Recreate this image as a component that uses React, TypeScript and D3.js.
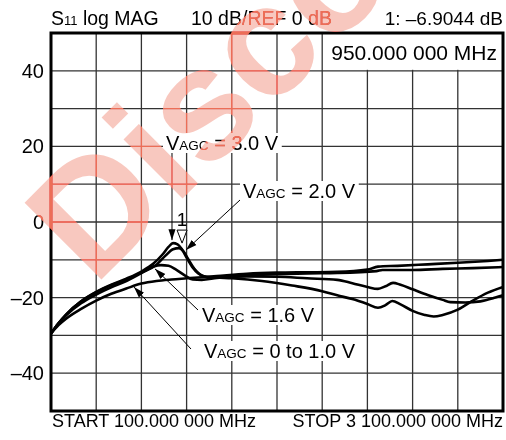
import React, { useEffect, useRef } from 'react';
import * as d3 from 'd3';

const W = 506;
const H = 440;
const margin = { top: 33, right: 3, bottom: 29, left: 51 };

// sweep 100 MHz .. 3100 MHz, 10 dB/div around REF 0 dB
const freqDomain = [100, 3100];
const dbDomain = [-50, 50];
const yTickLabels = [40, 20, 0, -20, -40];

// [MHz, dB]
const agc30 = [
  [100, -29.5], [150, -26.8], [200, -24.5], [300, -21], [400, -18.5], [500, -16.6], [600, -15],
  [700, -13.1], [780, -11], [840, -8.6], [880, -6.6], [910, -5.6], [940, -5.9], [970, -7.3],
  [1000, -9.4], [1040, -12], [1080, -13.7], [1130, -14.5], [1200, -14.7], [1300, -14.9],
  [1500, -15.6], [1700, -16.8], [1900, -18.3], [2000, -19.4], [2100, -20.4], [2200, -21.7],
  [2270, -22.7], [2320, -22], [2365, -20.9], [2420, -21.8], [2500, -23.5], [2580, -24.6],
  [2640, -25], [2700, -24.6], [2800, -23.2], [2900, -20.8], [3000, -18.7], [3100, -17.2],
];
const agc20 = [
  [100, -29.5], [150, -26.8], [200, -24.5], [300, -21], [400, -18.6], [500, -16.7], [600, -15.2],
  [700, -13.4], [800, -11.3], [860, -8.9], [910, -7.2], [950, -6.9], [980, -7.8], [1010, -9.8],
  [1050, -12.3], [1090, -13.9], [1140, -14.6], [1200, -14.6], [1400, -14.4], [1600, -14.5],
  [1800, -14.9], [2000, -15.3], [2100, -16.2], [2200, -17.2], [2270, -17.7], [2320, -17],
  [2370, -16.1], [2420, -16.6], [2500, -17.8], [2600, -19.3], [2700, -20.6], [2750, -21.2],
  [2850, -21.3], [2950, -21], [3050, -20], [3100, -19.4],
];
const agc16 = [
  [100, -29.5], [150, -26.8], [200, -24.7], [300, -21.5], [400, -19.2], [500, -17.3], [600, -15.6],
  [700, -13.5], [780, -11.8], [830, -11.4], [880, -11.6], [930, -12.6], [990, -14.2], [1040, -15.2],
  [1100, -15.3], [1200, -14.8], [1400, -14.1], [1600, -13.8], [1800, -13.6], [2000, -13.5],
  [2260, -13], [2300, -12.7], [2500, -12.7], [2700, -12.4], [2900, -12.2], [3100, -11.9],
];
const agc0to1 = [
  [100, -29.5], [150, -27.3], [200, -25.6], [300, -23], [400, -20.8], [500, -19], [600, -17.6],
  [700, -16.3], [800, -15.6], [900, -15.2], [1000, -14.9], [1100, -14.6], [1200, -14.3],
  [1400, -13.7], [1600, -13.4], [1800, -13.3], [2000, -13.2], [2200, -12.6], [2270, -11.8],
  [2400, -11.6], [2600, -11.2], [2800, -10.8], [3000, -10.3], [3100, -10],
];

const markerFreq = 950;
const markerDb = -6.9044;

const FONT = 'Liberation Sans, Arial, Helvetica, sans-serif';

const App = () => {
  const svgRef = useRef<SVGSVGElement>(null);

  useEffect(() => {
    const svg = d3.select(svgRef.current);
    svg.selectAll('*').remove();

    const x = d3.scaleLinear().domain(freqDomain).range([margin.left, W - margin.right]);
    const y = d3.scaleLinear().domain(dbDomain).range([H - margin.bottom, margin.top]);

    svg.append('rect').attr('width', W).attr('height', H).attr('fill', '#fff');

    // grid
    const grid = svg.append('g').attr('stroke', '#333').attr('stroke-width', 1.3);
    grid.selectAll('line.v')
      .data(d3.range(freqDomain[0], freqDomain[1] + 1, 300))
      .join('line')
      .attr('x1', d => x(d)).attr('x2', d => x(d))
      .attr('y1', y(dbDomain[1])).attr('y2', y(dbDomain[0]));
    grid.selectAll('line.h')
      .data(d3.range(dbDomain[0], dbDomain[1] + 1, 10))
      .join('line')
      .attr('x1', x(freqDomain[0])).attr('x2', x(freqDomain[1]))
      .attr('y1', d => y(d)).attr('y2', d => y(d));

    // marker readout box
    svg.append('rect')
      .attr('x', x(1900) + 1).attr('y', y(50))
      .attr('width', x(3100) - x(1900) - 1).attr('height', y(40) - y(50) - 1)
      .attr('fill', '#fff');
    svg.append('text')
      .attr('x', x(3100) - 6).attr('y', 60)
      .attr('text-anchor', 'end')
      .style('font', `21px ${FONT}`)
      .text('950.000 000 MHz');

    // traces
    const line = d3.line<number[]>()
      .x(d => x(d[0]))
      .y(d => y(d[1]))
      .curve(d3.curveMonotoneX);
    [agc0to1, agc16, agc20, agc30].forEach(s => {
      svg.append('path')
        .datum(s)
        .attr('fill', 'none')
        .attr('stroke', '#000')
        .attr('stroke-width', 2.6)
        .attr('stroke-linejoin', 'round')
        .attr('d', line);
    });

    // frame
    svg.append('rect')
      .attr('x', x(freqDomain[0])).attr('y', y(dbDomain[1]))
      .attr('width', x(freqDomain[1]) - x(freqDomain[0]))
      .attr('height', y(dbDomain[0]) - y(dbDomain[1]))
      .attr('fill', 'none').attr('stroke', '#000').attr('stroke-width', 3);

    // y labels
    svg.append('g').selectAll('text')
      .data(yTickLabels)
      .join('text')
      .attr('x', 44)
      .attr('y', d => y(d) + 7)
      .attr('text-anchor', 'end')
      .style('font', `20px ${FONT}`)
      .text(d => (d < 0 ? '\u2013' + Math.abs(d) : String(d)));

    // header
    const head = svg.append('text').attr('x', 51).attr('y', 25).style('font', `19.5px ${FONT}`);
    head.append('tspan').text('S');
    head.append('tspan').style('font-size', '13px').text('11');
    head.append('tspan').text(' log MAG');
    svg.append('text').attr('x', 191).attr('y', 25).style('font', `19.5px ${FONT}`)
      .text('10 dB/REF 0 dB');
    svg.append('text').attr('x', 503).attr('y', 25).attr('text-anchor', 'end')
      .style('font', `19px ${FONT}`)
      .text('1: \u20136.9044 dB');

    // footer
    svg.append('text').attr('x', 52).attr('y', 427).style('font', `18px ${FONT}`)
      .text('START 100.000 000 MHz');
    svg.append('text').attr('x', 503).attr('y', 427).attr('text-anchor', 'end')
      .style('font', `18px ${FONT}`)
      .text('STOP 3 100.000 000 MHz');

    // arrows
    const defs = svg.append('defs');
    defs.append('marker')
      .attr('id', 'ah').attr('viewBox', '0 0 10 10')
      .attr('refX', 10).attr('refY', 5)
      .attr('markerWidth', 11).attr('markerHeight', 11)
      .attr('markerUnits', 'userSpaceOnUse')
      .attr('orient', 'auto')
      .append('path').attr('d', 'M0,1.8L10,5L0,8.2Z').attr('fill', '#000');

    const label = (lx: number, ly: number, rest: string) => {
      const g = svg.append('g');
      const t = g.append('text').attr('x', lx).attr('y', ly).style('font', `20px ${FONT}`);
      t.append('tspan').text('V');
      t.append('tspan').style('font-size', '13.5px').text('AGC');
      t.append('tspan').text(rest);
      const b = (t.node() as SVGTextElement).getBBox();
      g.insert('rect', 'text')
        .attr('x', b.x - 3).attr('y', b.y + 1)
        .attr('width', b.width + 6).attr('height', b.height - 2)
        .attr('fill', '#fff');
      return b;
    };
    const arrow = (x1: number, y1: number, x2: number, y2: number) => {
      svg.append('line')
        .attr('x1', x1).attr('y1', y1).attr('x2', x2).attr('y2', y2)
        .attr('stroke', '#000').attr('stroke-width', 1)
        .attr('marker-end', 'url(#ah)');
    };

    label(166, 150, ' = 3.0 V');
    arrow(x(903), 153, x(903), y(-4.8));
    label(243, 198, ' = 2.0 V');
    arrow(240, 200, x(996), y(-7.4));
    label(202, 322, ' = 1.6 V');
    arrow(198, 310, x(790), y(-12.4));
    label(204, 358, ' = 0 to 1.0 V');
    arrow(191, 349, x(651), y(-17.2));

    // marker 1
    const mx = x(markerFreq) + 3;
    const my = y(markerDb) - 5;
    svg.append('path')
      .attr('d', `M${mx - 5},${my - 13}L${mx + 5},${my - 13}L${mx},${my}Z`)
      .attr('fill', '#fff').attr('stroke', '#000').attr('stroke-width', 1);
    svg.append('text').attr('x', mx).attr('y', my - 17).attr('text-anchor', 'middle')
      .style('font', `19px ${FONT}`).text('1');

    // watermark
    const wm = svg.append('g').attr('transform', 'translate(94,287) rotate(-45)');
    wm.append('text')
      .style('font', `bold 158px ${FONT}`)
      .attr('fill', 'rgb(236,110,88)')
      .style('mix-blend-mode', 'lighten')
      .text('Discontinued');
    wm.append('text')
      .style('font', `bold 158px ${FONT}`)
      .attr('fill', 'rgb(236,110,88)')
      .attr('fill-opacity', 0.38)
      .text('Discontinued');
  }, []);

  return (
    <svg
      ref={svgRef}
      width={W}
      height={H}
      style={{ position: 'absolute', left: 0, top: 0, display: 'block' }}
    />
  );
};

export default App;
